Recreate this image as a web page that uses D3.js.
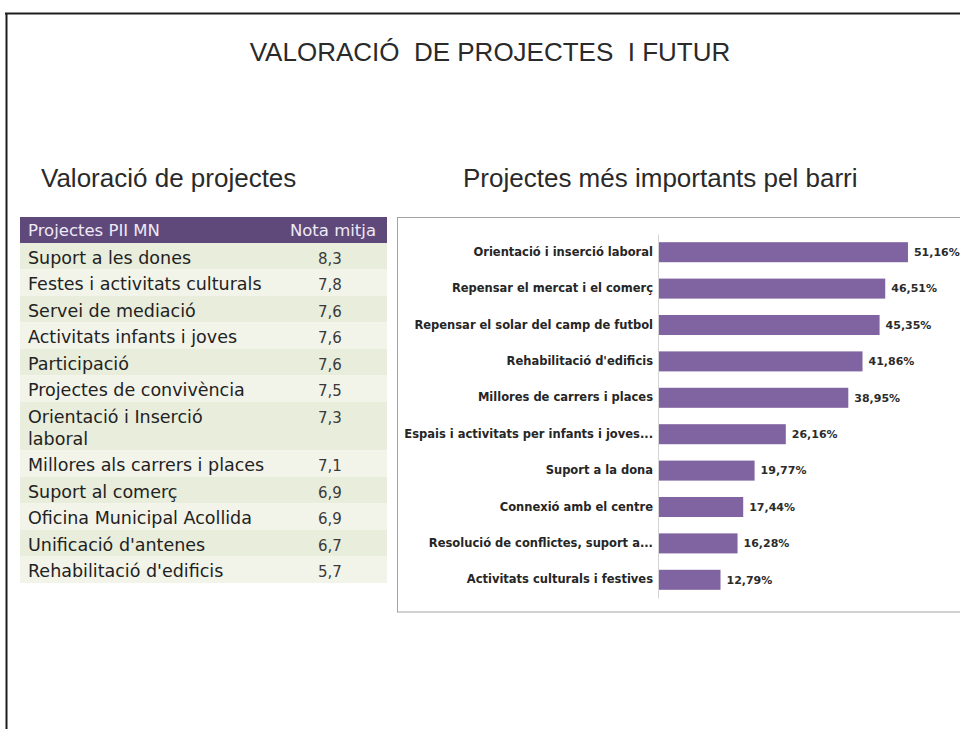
<!DOCTYPE html>
<html>
<head>
<meta charset="utf-8">
<script src="https://cdn.jsdelivr.net/npm/d3@7"></script>
<style>
	body { margin: 0; background: #ffffff; }
	svg { display: block; }
	.title { font-family: 'Liberation Sans', Arial, sans-serif; white-space: pre; }
	.cell { font-family: 'DejaVu Sans', sans-serif; }
</style>
</head>
<body>
<script>
'use strict';

// Valoració de projectes (table)
const projects = [
	'Suport a les dones',
	'Festes i activitats culturals',
	'Servei de mediació',
	'Activitats infants i joves',
	'Participació',
	'Projectes de convivència',
	'Orientació i Inserció\nlaboral',
	'Millores als carrers i places',
	'Suport al comerç',
	'Oficina Municipal Acollida',
	'Unificació d\'antenes',
	'Rehabilitació d\'edificis'
];
const notes = [8.3, 7.8, 7.6, 7.6, 7.6, 7.5, 7.3, 7.1, 6.9, 6.9, 6.7, 5.7];
const tableHeader = ['Projectes PII MN', 'Nota mitja'];

// Projectes més importants pel barri (bar chart)
const categories = [
	'Orientació i inserció laboral',
	'Repensar el mercat i el comerç',
	'Repensar el solar del camp de futbol',
	'Rehabilitació d\'edificis',
	'Millores de carrers i places',
	'Espais i activitats per infants i joves...',
	'Suport a la dona',
	'Connexió amb el centre',
	'Resolució de conflictes, suport a...',
	'Activitats culturals i festives'
];
const percents = [51.16, 46.51, 45.35, 41.86, 38.95, 26.16, 19.77, 17.44, 16.28, 12.79];

const TITLE = 'VALORACIÓ  DE PROJECTES  I FUTUR';
const SUB_LEFT = 'Valoració de projectes';
const SUB_RIGHT = 'Projectes més importants pel barri';

const W = 960, H = 729;
const locale = d3.formatLocale({ decimal: ',', thousands: '.', grouping: [3], currency: ['', '€'] });
const fmtNote = locale.format('.1f');
const fmtPct = (v) => locale.format('.2f')(v) + '%';

let svg = d3.select('body').append('svg').attr('width', W).attr('height', H);
svg.append('rect').attr('width', W).attr('height', H).attr('fill', '#ffffff');

// slide frame (top + left edge)
svg.append('path').attr('d', 'M5,13.5H' + W + 'M6.5,13V' + H)
	.attr('fill', 'none').attr('stroke', '#1e1e1e').attr('stroke-width', 2);

svg.append('text').attr('class', 'title').text(TITLE)
	.attr('x', 490).attr('y', 61).attr('text-anchor', 'middle')
	.style('font-size', '26px').attr('fill', '#2a2a2a');

svg.append('text').attr('class', 'title').text(SUB_LEFT)
	.attr('x', 41).attr('y', 187).style('font-size', '26px').attr('fill', '#2a2a2a');
svg.append('text').attr('class', 'title').text(SUB_RIGHT)
	.attr('x', 463).attr('y', 187).style('font-size', '26px').attr('fill', '#2a2a2a');

/* ---------- table ---------- */
const TABLE = { x: 20, y: 217, width: 367, head: 26, row: 26.5, line: 22, valueX: 330 };
let table = svg.append('g').attr('class', 'table');

table.append('rect').attr('x', TABLE.x).attr('y', TABLE.y)
	.attr('width', TABLE.width).attr('height', TABLE.head).attr('fill', '#5f497a');
table.append('text').attr('class', 'cell').text(tableHeader[0])
	.attr('x', TABLE.x + 8).attr('y', TABLE.y + 19)
	.style('font-size', '16.5px').attr('fill', '#efe9f6');
table.append('text').attr('class', 'cell').text(tableHeader[1])
	.attr('x', TABLE.x + TABLE.width - 11).attr('y', TABLE.y + 19).attr('text-anchor', 'end')
	.style('font-size', '16.5px').attr('fill', '#efe9f6');

let rows = projects.map((p, i) => ({ lines: p.split('\n'), note: notes[i] }));
let yPos = TABLE.y + TABLE.head;
rows.forEach((r) => {
	r.y = yPos;
	r.h = TABLE.row + (r.lines.length - 1) * TABLE.line;
	yPos += r.h;
});

let rowG = table.selectAll('g.row').data(rows).enter().append('g').attr('class', 'row')
	.attr('transform', (d) => 'translate(0,' + d.y + ')');
rowG.append('rect').attr('x', TABLE.x).attr('y', 0).attr('width', TABLE.width)
	.attr('height', (d) => d.h)
	.attr('fill', (d, i) => i % 2 == 0 ? '#e9eddb' : '#f2f4ea');
rowG.append('text').attr('class', 'cell')
	.attr('x', TABLE.x + 8).attr('y', 20.5)
	.style('font-size', '17.5px').attr('fill', '#222222')
	.selectAll('tspan').data((d) => d.lines).enter().append('tspan')
	.attr('x', TABLE.x + 8).attr('dy', (d, i) => i == 0 ? 0 : TABLE.line)
	.text((d) => d);
rowG.append('text').attr('class', 'cell')
	.attr('x', TABLE.valueX).attr('y', 20.5).attr('text-anchor', 'middle')
	.style('font-size', '15px').attr('fill', '#3a3a3a')
	.text((d) => fmtNote(d.note));

/* ---------- bar chart ---------- */
svg.append('rect').attr('x', 397.5).attr('y', 217.5).attr('width', 580).attr('height', 394.5)
	.attr('fill', '#ffffff').attr('stroke', '#a3a3a3');

let xScale = d3.scaleLinear().domain([0, 60]).range([658, 658 + 60 * 4.886]);
let yScale = d3.scaleBand().domain(categories).range([234, 598]).paddingInner(0.45).paddingOuter(0.225);

let yAxis = svg.append('g').attr('transform', 'translate(' + xScale(0) + ',0)')
	.call(d3.axisLeft(yScale).tickSize(0).tickPadding(5));
yAxis.select('.domain').attr('stroke', '#d4d4d4');
yAxis.selectAll('text').attr('class', 'cell').style('font-size', '11.5px')
	.style('font-weight', 'bold').attr('fill', '#262626');

svg.selectAll('rect.bar').data(percents).enter().append('rect').attr('class', 'bar')
	.attr('x', xScale(0) + 1)
	.attr('y', (d, i) => yScale(categories[i]))
	.attr('width', (d) => xScale(d) - xScale(0) - 1)
	.attr('height', yScale.bandwidth())
	.attr('fill', '#8064a2');

svg.selectAll('text.val').data(percents).enter().append('text').attr('class', 'val cell')
	.attr('x', (d) => xScale(d) + 6)
	.attr('y', (d, i) => yScale(categories[i]) + yScale.bandwidth() / 2)
	.attr('dy', '0.35em')
	.style('font-size', '11px').style('font-weight', 'bold').attr('fill', '#2b2b2b')
	.text((d) => fmtPct(d));
</script>
</body>
</html>
